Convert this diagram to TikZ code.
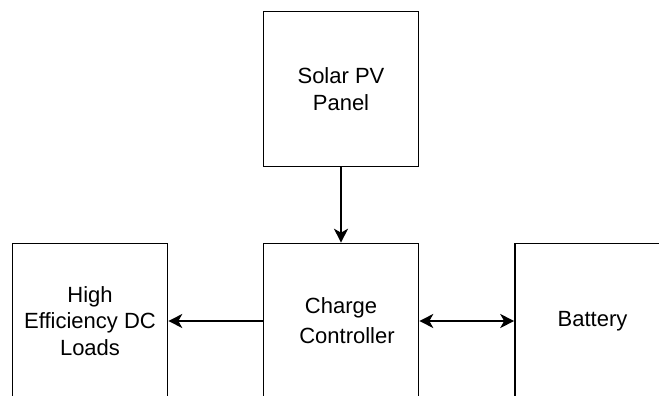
\documentclass[tikz,border=0pt]{standalone}
\usepackage{fontspec}
\setmainfont{Liberation Sans}
\usetikzlibrary{arrows.meta}

\begin{document}
\begin{tikzpicture}[x=1pt, y=-1pt,
  block/.style={draw, line width=1.6pt, minimum width=155pt, minimum height=155pt,
    inner sep=0pt, align=center, font=\fontsize{22}{26.5}\selectfont},
  tip/.style={line width=1.6pt},
  flow/.style={tip, -{Stealth[length=14pt, width=14pt, inset=4pt]}}]
\useasboundingbox (0,0) rectangle (659,396);
\clip (0,0) rectangle (659,396);
\node[block] (pv) at (341,89) {Solar PV\\Panel};
\node[block] (cc) at (341,321) {Charge\\[3.5pt]\hspace*{12pt}Controller};
\node[block] (loads) at (90,321) {High\\Efficiency DC\\Loads};
\node[block] (bat) at (592.5,321) {Battery};
\draw[flow] (pv) -- (cc);
\draw[flow] (cc) -- (loads);
\draw[tip, {Stealth[length=14pt, width=14pt, inset=4pt]}-{Stealth[length=14pt, width=14pt, inset=4pt]}] (cc) -- (bat);
\end{tikzpicture}
\end{document}
